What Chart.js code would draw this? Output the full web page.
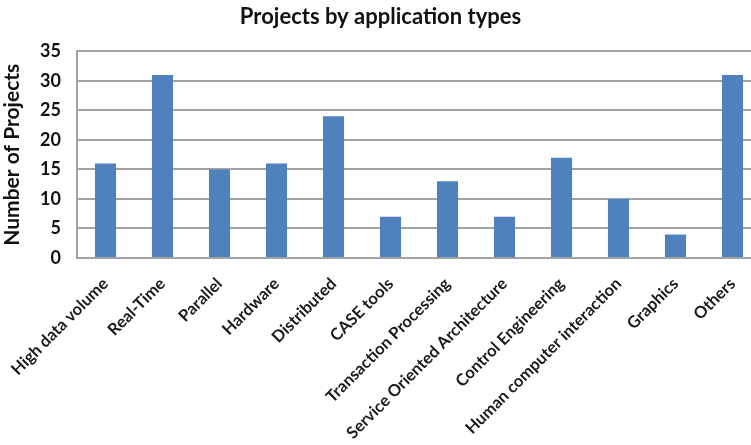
<!DOCTYPE html>
<html>
<head>
<meta charset="utf-8">
<script src="https://cdn.jsdelivr.net/npm/chart.js@4.4.1/dist/chart.umd.min.js"></script>
<style>
  html, body { margin: 0; padding: 0; background: #fff; overflow: hidden; }
  #appChart { display: block; }
</style>
</head>
<body>
<canvas id="appChart" width="766" height="445"></canvas>
<script>
// Projets par type d'application
const categories = ['High data volume', 'Real-Time', 'Parallel', 'Hardware', 'Distributed', 'CASE tools',
  'Transaction Processing', 'Service Oriented Architecture', 'Control Engineering',
  'Human computer interaction', 'Graphics', 'Others'];
const projectCounts = [16, 31, 15, 16, 24, 7, 13, 7, 17, 10, 4, 31];
const yTicks = [0, 5, 10, 15, 20, 25, 30, 35];

const gridGrey = '#a3a3a3';
const ctx = document.getElementById('appChart').getContext('2d');
const appChart = new Chart(ctx, {
    type: 'bar',
    data: {
        labels: categories,
        datasets: [{
            data: projectCounts,
            backgroundColor: '#4f81bd',
            borderWidth: 0,
            barPercentage: 0.37,
            categoryPercentage: 1
        }]
    },
    options: {
        responsive: false,
        animation: false,
        layout: { padding: { left: 0, right: 5, top: 0, bottom: 0 } },
        plugins: {
            legend: { display: false },
            tooltip: { enabled: false },
            title: {
                display: true,
                text: 'Projects by application types',
                color: '#111',
                font: { family: 'Lato', size: 22, weight: 'bold' },
                padding: { top: 4, bottom: 21 }
            }
        },
        scales: {
            x: {
                grid: { display: false, drawTicks: false },
                border: { display: true, color: gridGrey, width: 2 },
                ticks: {
                    color: '#1a1a1a',
                    font: { family: 'Lato', size: 16.5, weight: 'bold' },
                    minRotation: 45,
                    maxRotation: 45,
                    autoSkip: false,
                    padding: 16
                },
                afterFit: (scale) => {
                    scale.height = 187;
                    // les étiquettes inclinées ne doivent pas décaler la zone de tracé
                    scale.paddingLeft = 0;
                    scale.paddingRight = 0;
                }
            },
            y: {
                min: 0,
                max: 35,
                afterBuildTicks: (scale) => { scale.ticks = yTicks.map(v => ({ value: v })); },
                grid: { color: gridGrey, lineWidth: 2, drawTicks: false },
                border: { display: true, color: gridGrey, width: 2 },
                ticks: {
                    color: '#111',
                    font: { family: 'Lato', size: 18, weight: 'bold' },
                    padding: 16
                },
                title: {
                    display: true,
                    text: 'Number of Projects',
                    color: '#111',
                    font: { family: 'Lato', size: 21, weight: 'bold' },
                    padding: { top: 0, bottom: 0 }
                },
                afterFit: (scale) => { scale.width = 77; }
            }
        }
    }
});
</script>
</body>
</html>
